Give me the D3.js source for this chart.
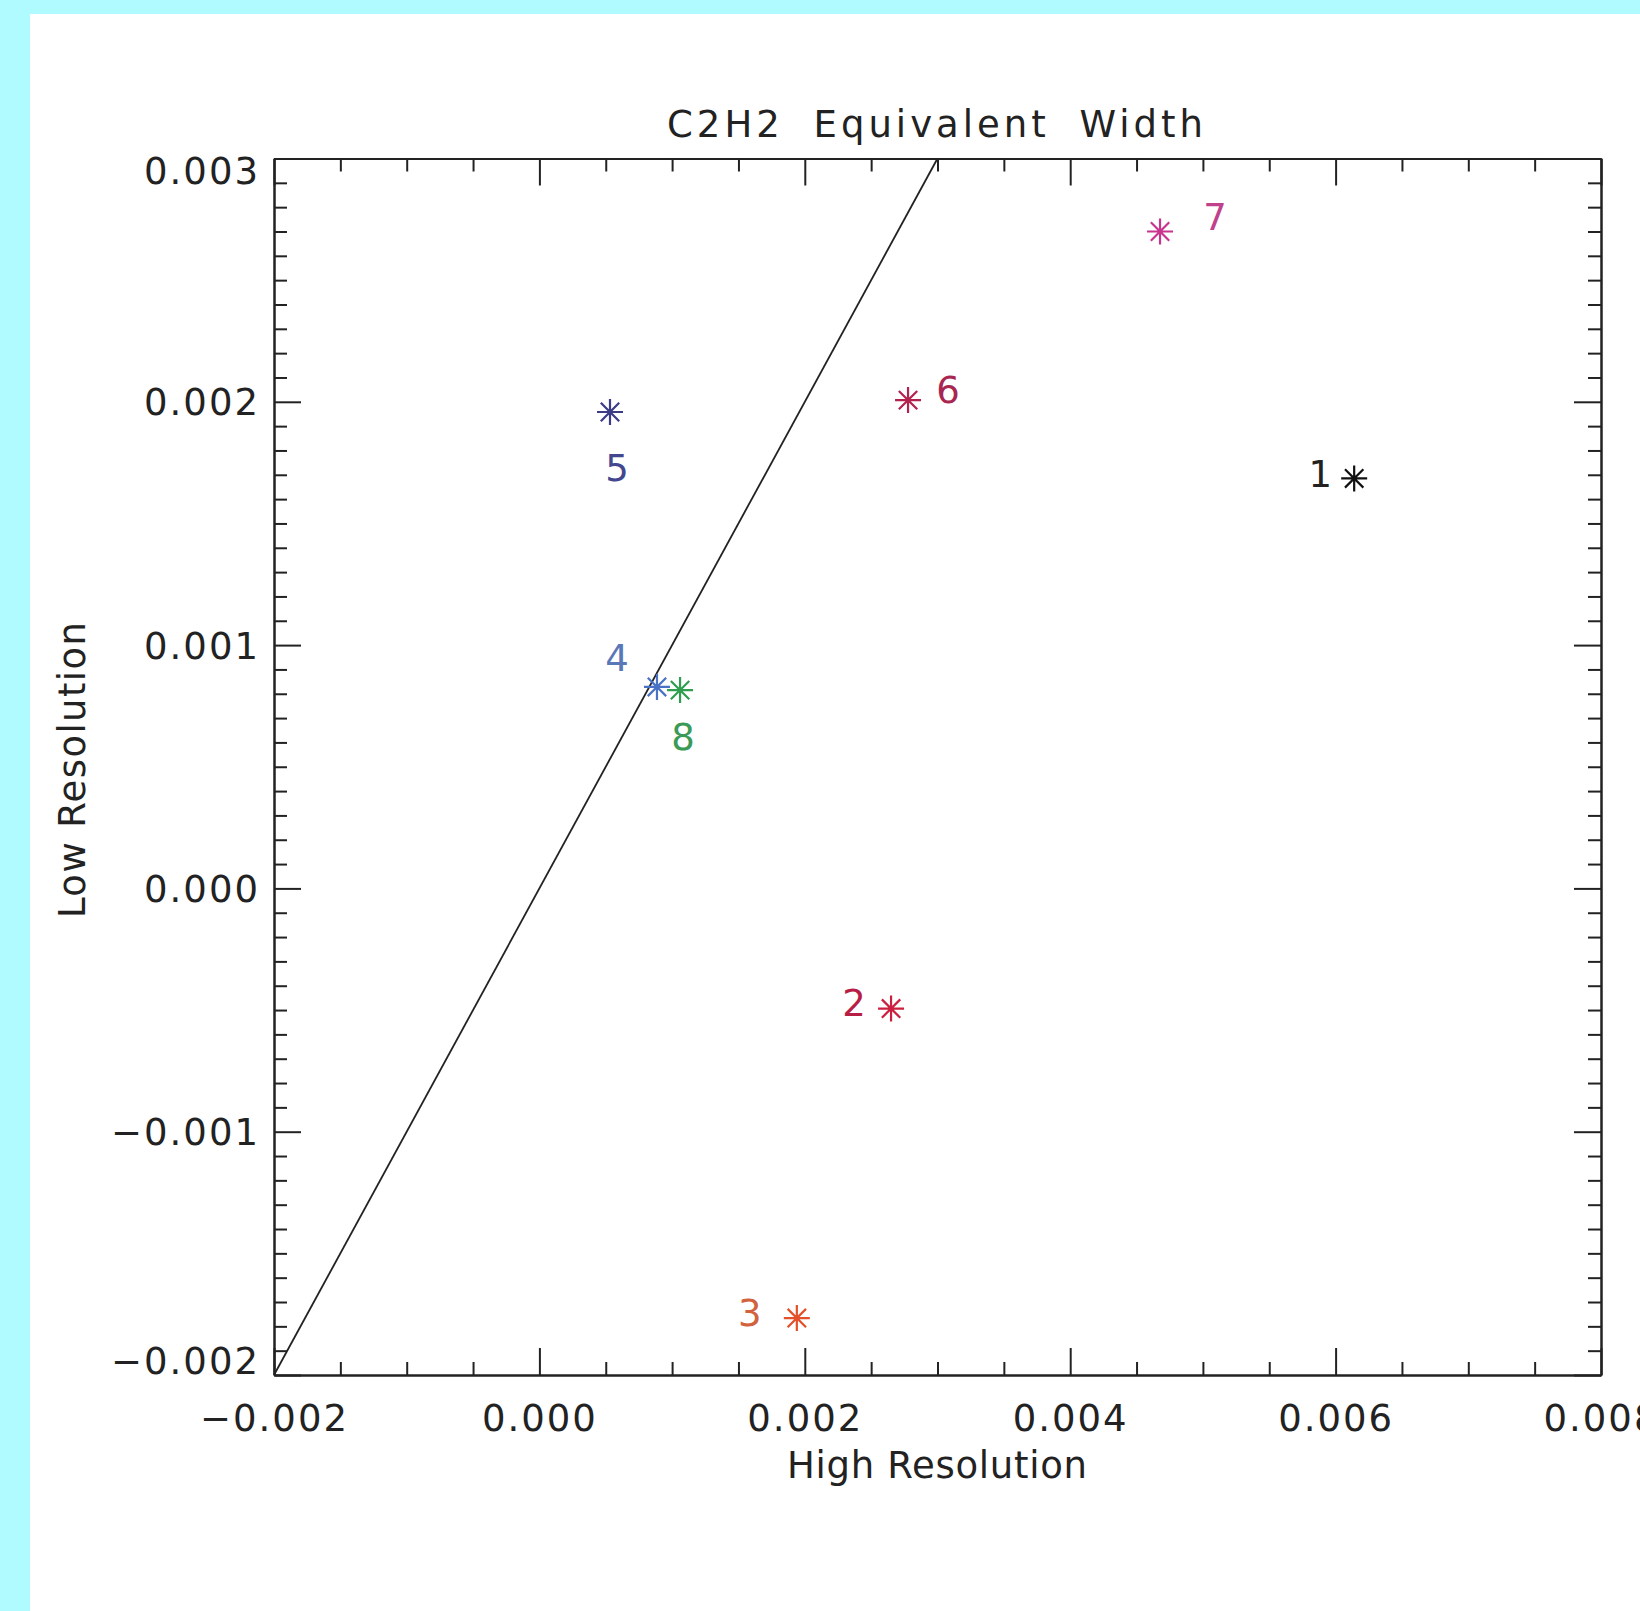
<!DOCTYPE html>
<html>
<head>
<meta charset="utf-8">
<script src="https://cdn.jsdelivr.net/npm/d3@7"></script>
<style>
  html, body { margin: 0; padding: 0; background: #b0fbff; }
  svg { display: block; }
  text { font-family: "DejaVu Sans", sans-serif; fill: #222; }
</style>
</head>
<body>
<svg id="chart" width="1640" height="1611"></svg>
<script>
// ---- data ----
const title = "C2H2 Equivalent Width";
const xTitle = "High Resolution";
const yTitle = "Low Resolution";
const pointLabels = ["1", "2", "3", "4", "5", "6", "7", "8"];
const highRes = [0.00614, 0.00265, 0.00194, 0.000886, 0.000532, 0.002778, 0.004677, 0.00106];
const lowRes  = [0.001685, -0.000494, -0.001766, 0.000828, 0.001958, 0.002007, 0.0027, 0.000815];
const pointColors = ["#111111", "#cc1f3f", "#e4502a", "#4a72c4", "#3b3b86", "#b3224f", "#c8348e", "#2f9e4f"];
const labelColors = ["#222222", "#b81e45", "#d2623e", "#5a78b8", "#45478e", "#a82650", "#c0428c", "#3a9a56"];
const xDomain = [-0.002, 0.008];
const yDomain = [-0.002, 0.003];
const xMajorTicks = [-0.002, 0.000, 0.002, 0.004, 0.006, 0.008];
const yMajorTicks = [-0.002, -0.001, 0.000, 0.001, 0.002, 0.003];
const oneToOne = [-0.002, 0.003];

// ---- layout (styling only) ----
const W = 1640, H = 1611;
const plot = { left: 274, right: 1601, top: 158.5, bottom: 1375 };
const labelOffsets = [[-34, -5], [-37, -6], [-47, -5], [-40, -29], [7, 56], [40, -10], [55, -15], [3, 47]];
const fontSize = 37;
const majorLen = 27, minorLen = 13;

const svg = d3.select("#chart");
svg.append("rect").attr("x", 0).attr("y", 0).attr("width", W).attr("height", H).attr("fill", "#b0fbff");
svg.append("rect").attr("x", 30).attr("y", 14).attr("width", W - 30).attr("height", H - 14).attr("fill", "#ffffff");

const x = d3.scaleLinear().domain(xDomain).range([plot.left, plot.right]);
const y = d3.scaleLinear().domain(yDomain).range([plot.bottom, plot.top]);

const xMinor = d3.range(0, 21).map(i => xDomain[0] + i * 0.0005).filter(v => !xMajorTicks.some(m => Math.abs(m - v) < 1e-9));
const yMinor = d3.range(0, 51).map(i => yDomain[0] + i * 0.0001).filter(v => !yMajorTicks.some(m => Math.abs(m - v) < 1e-9));

const fmt = d3.format(".3f");

function styleAxis(g) {
  g.select(".domain").attr("stroke", "#222").attr("stroke-width", 2);
  g.selectAll(".tick line").attr("stroke", "#222").attr("stroke-width", 2);
}

// bottom
const gB = svg.append("g").attr("transform", `translate(0,${plot.bottom})`)
  .call(d3.axisBottom(x).tickValues(xMajorTicks).tickSizeInner(-majorLen).tickSizeOuter(0).tickPadding(30).tickFormat(fmt));
styleAxis(gB);
gB.selectAll(".tick text").attr("font-size", fontSize).attr("font-family", "DejaVu Sans").attr("fill", "#222")
  .attr("letter-spacing", 2).attr("dy", "0.71em");
const gBm = svg.append("g").attr("transform", `translate(0,${plot.bottom})`)
  .call(d3.axisBottom(x).tickValues(xMinor).tickSizeInner(-minorLen).tickSizeOuter(0).tickFormat(""));
styleAxis(gBm);

// top
const gT = svg.append("g").attr("transform", `translate(0,${plot.top})`)
  .call(d3.axisTop(x).tickValues(xMajorTicks).tickSizeInner(-majorLen).tickSizeOuter(0).tickFormat(""));
styleAxis(gT);
const gTm = svg.append("g").attr("transform", `translate(0,${plot.top})`)
  .call(d3.axisTop(x).tickValues(xMinor).tickSizeInner(-minorLen).tickSizeOuter(0).tickFormat(""));
styleAxis(gTm);

// left
const gL = svg.append("g").attr("transform", `translate(${plot.left},0)`)
  .call(d3.axisLeft(y).tickValues(yMajorTicks).tickSizeInner(-majorLen).tickSizeOuter(0).tickPadding(14).tickFormat(fmt));
styleAxis(gL);
gL.selectAll(".tick text").attr("font-size", fontSize).attr("font-family", "DejaVu Sans").attr("fill", "#222")
  .attr("letter-spacing", 2)
  .attr("dy", d => d === yDomain[1] ? "0.68em" : (d === yDomain[0] ? "-0.03em" : "0.35em"));
const gLm = svg.append("g").attr("transform", `translate(${plot.left},0)`)
  .call(d3.axisLeft(y).tickValues(yMinor).tickSizeInner(-minorLen).tickSizeOuter(0).tickFormat(""));
styleAxis(gLm);

// right
const gR = svg.append("g").attr("transform", `translate(${plot.right},0)`)
  .call(d3.axisRight(y).tickValues(yMajorTicks).tickSizeInner(-majorLen).tickSizeOuter(0).tickFormat(""));
styleAxis(gR);
const gRm = svg.append("g").attr("transform", `translate(${plot.right},0)`)
  .call(d3.axisRight(y).tickValues(yMinor).tickSizeInner(-minorLen).tickSizeOuter(0).tickFormat(""));
styleAxis(gRm);

// one-to-one line
const line = d3.line().x(d => x(d)).y(d => y(d));
svg.append("path").datum(oneToOne).attr("d", line)
  .attr("fill", "none").attr("stroke", "#222").attr("stroke-width", 1.8);

// asterisk symbol (IDL psym=2)
const asterisk = {
  draw(ctx, size) {
    const r = Math.sqrt(size) / 2;
    const d = r * Math.SQRT1_2;
    ctx.moveTo(-r, 0); ctx.lineTo(r, 0);
    ctx.moveTo(0, -r); ctx.lineTo(0, r);
    ctx.moveTo(-d, -d); ctx.lineTo(d, d);
    ctx.moveTo(-d, d); ctx.lineTo(d, -d);
  }
};
const pts = highRes.map((hx, i) => ({ hx, ly: lowRes[i], label: pointLabels[i], c: pointColors[i], lc: labelColors[i], off: labelOffsets[i] }));

svg.append("g").selectAll("path").data(pts).join("path")
  .attr("transform", d => `translate(${x(d.hx)},${y(d.ly)})`)
  .attr("d", d3.symbol().type(asterisk).size(26 * 26))
  .attr("fill", "none").attr("stroke", d => d.c).attr("stroke-width", 2.2);

svg.append("g").selectAll("text").data(pts).join("text")
  .attr("x", d => x(d.hx) + d.off[0])
  .attr("y", d => y(d.ly) + d.off[1])
  .attr("dy", "0.36em")
  .attr("text-anchor", "middle")
  .attr("font-size", fontSize)
  .style("fill", d => d.lc)
  .text(d => d.label);

// titles
svg.append("text").attr("x", 937).attr("y", 137).attr("text-anchor", "middle")
  .attr("font-size", fontSize).attr("letter-spacing", 4).attr("word-spacing", 14).text(title);
svg.append("text").attr("x", 937).attr("y", 1478).attr("text-anchor", "middle")
  .attr("font-size", fontSize).attr("textLength", 300).attr("lengthAdjust", "spacing").text(xTitle);
svg.append("text").attr("transform", "translate(85,770) rotate(-90)").attr("text-anchor", "middle")
  .attr("font-size", fontSize).attr("textLength", 296).attr("lengthAdjust", "spacing").text(yTitle);
</script>
</body>
</html>
